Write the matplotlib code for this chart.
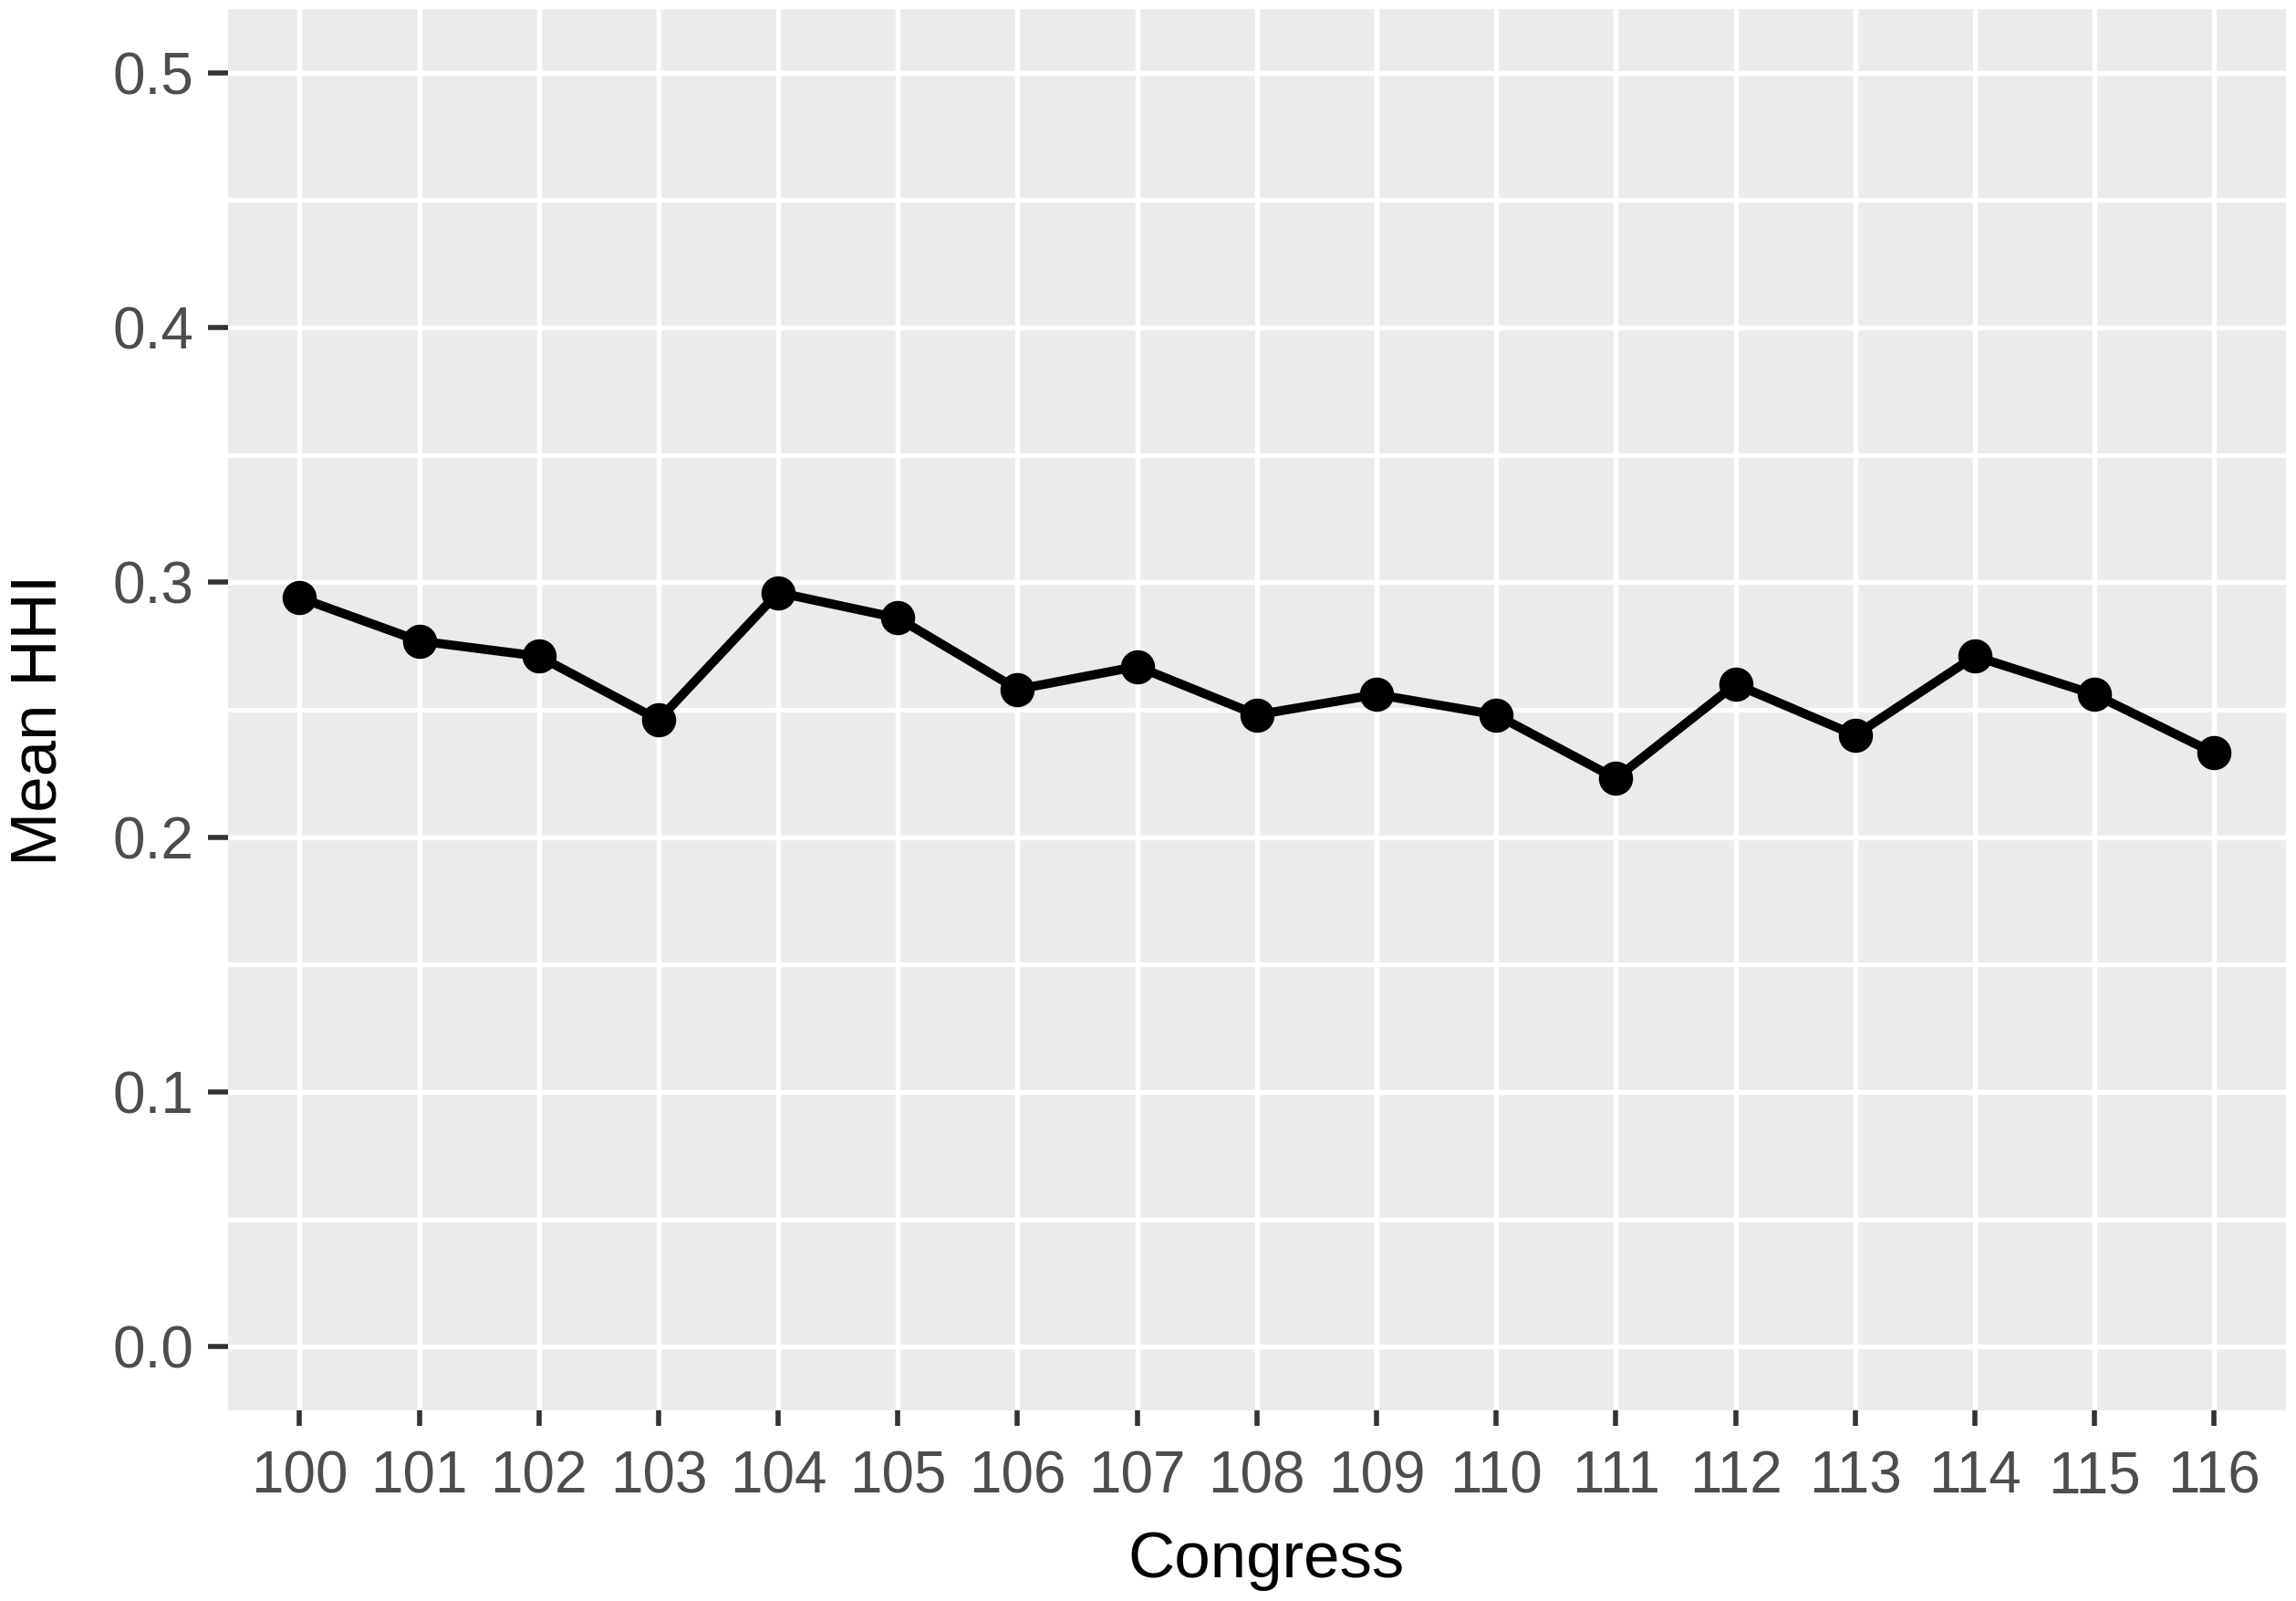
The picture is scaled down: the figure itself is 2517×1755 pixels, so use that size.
import matplotlib
matplotlib.use("Agg")
import matplotlib.pyplot as plt
import numpy as np

congress = ['100', '101', '102', '103', '104', '105', '106', '107', '108',
            '109', '110', '111', '112', '113', '114', '115', '116']
mean_hhi = [0.294, 0.277, 0.271, 0.246, 0.296, 0.286, 0.258, 0.267, 0.248,
            0.256, 0.248, 0.223, 0.260, 0.240, 0.271, 0.256, 0.233]
y_ticks = [0.0, 0.1, 0.2, 0.3, 0.4, 0.5]
y_tick_labels = ['0.0', '0.1', '0.2', '0.3', '0.4', '0.5']
y_minor = [0.05, 0.15, 0.25, 0.35, 0.45]

plt.rcParams['font.family'] = ['Liberation Sans', 'DejaVu Sans']

W, H = 2517, 1755
DPI = 100
fig = plt.figure(figsize=(W / DPI, H / DPI), dpi=DPI)
fig.patch.set_facecolor('white')

left, right, top, bottom = 249.7, 2506, 10, 1546
ax = fig.add_axes([left / W, 1 - bottom / H, (right - left) / W, (bottom - top) / H])
ax.set_facecolor('#EBEBEB')
for s in ax.spines.values():
    s.set_visible(False)

x = np.arange(1, len(congress) + 1)
ax.set_xlim(0.4, len(congress) + 0.6)
ax.set_ylim(-0.025, 0.525)

ax.set_yticks(y_ticks)
ax.set_yticklabels(y_tick_labels)
ax.set_yticks(y_minor, minor=True)
ax.set_xticks(x)
ax.set_xticklabels(congress)

ax.grid(True, which='major', axis='both', color='white', linewidth=3.9)
ax.grid(True, which='minor', axis='y', color='white', linewidth=3.7)
ax.set_axisbelow(True)

ax.tick_params(axis='x', which='major', length=12, width=4, color='#333333',
               pad=19, labelsize=46, labelcolor='#4D4D4D')
ax.tick_params(axis='y', which='major', length=15.5, width=4, color='#333333',
               pad=11.5, labelsize=46, labelcolor='#4D4D4D')
ax.tick_params(axis='y', which='minor', length=0)

ax.plot(x, mean_hhi, color='black', linewidth=7.2, marker='o',
        markersize=26, markerfacecolor='black', markeredgecolor='black',
        solid_joinstyle='round', zorder=3)

fig.text(1388 / W, 1 - 1729 / H, 'Congress', ha='center', va='baseline',
         fontsize=51, color='black')
fig.text(44 / W, 1 - 789 / H, 'Mean HHI', ha='center', va='center',
         rotation=90, fontsize=51, color='black')

fig.savefig('out.png', dpi=DPI, facecolor='white')
